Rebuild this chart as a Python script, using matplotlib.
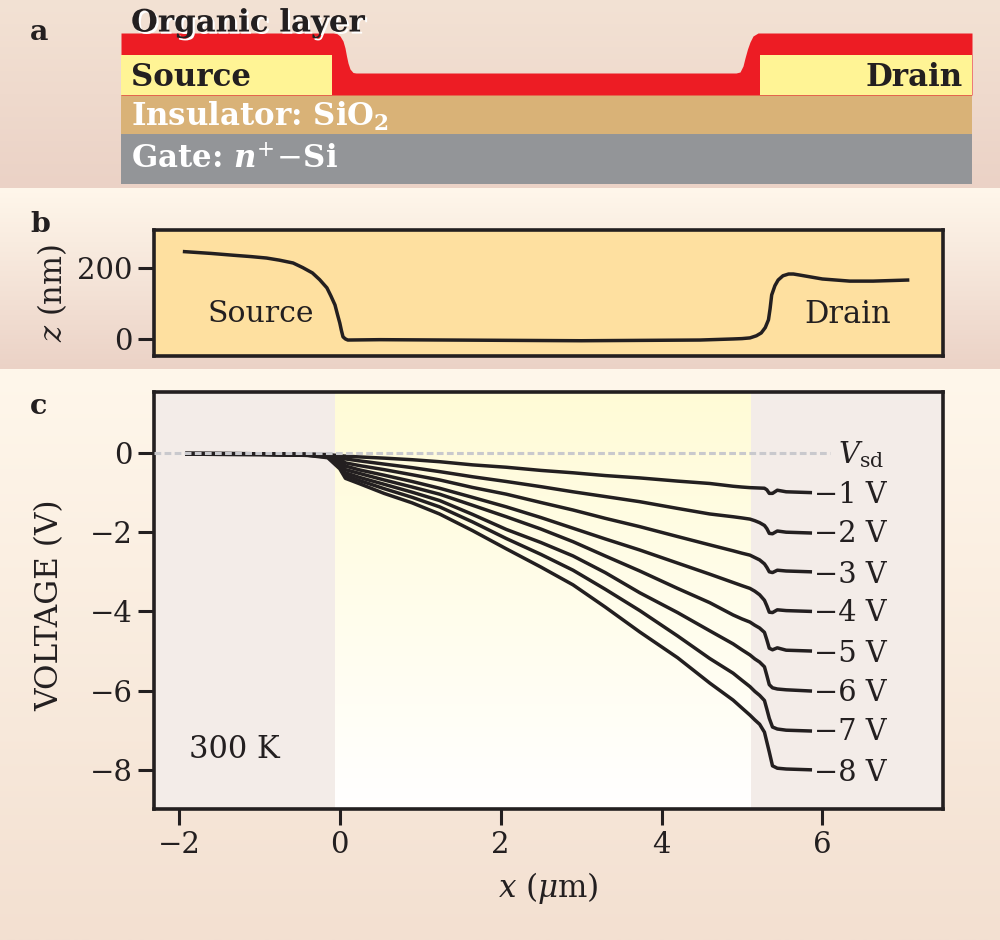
#!/usr/bin/env python3
"""
Organic transistor cross section, height profile and voltage profiles
"""

import matplotlib
matplotlib.use('Agg')
import matplotlib.pyplot as plt
import matplotlib.patheffects as pe
from matplotlib.colors import to_rgb
import numpy as np

plt.rcParams['font.family'] = ['DejaVu Serif']
plt.rcParams['mathtext.fontset'] = 'dejavuserif'

# Height profile, panel b
profile_x = [-1.93, -1.6, -1.33, -1.1, -0.91, -0.75, -0.58, -0.46, -0.34, -0.25, -0.16, -0.11, -0.06,
             -0.03, 0.0, 0.02, 0.04, 0.07, 0.1, 0.5, 3.0, 4.48, 4.89, 5.0, 5.1, 5.18, 5.24, 5.29,
             5.33, 5.35, 5.37, 5.41, 5.45, 5.51, 5.58, 5.64, 5.72, 6.0, 6.34, 6.63, 7.06]
profile_z = [246, 241, 236, 232, 228, 222, 214, 201, 186, 167, 144, 121, 96,
             70, 45, 24, 6, 0, -3, -2, -5, -3, 0, 1, 3, 9, 17, 32,
             54, 85, 124, 150, 166, 178, 183, 183, 180, 169, 163, 163, 166]

# Voltage profiles, panel c
position = [-1.9, -1.0, -0.4, -0.15, 0.0, 0.07, 0.25, 0.55, 0.9, 1.24, 1.65, 2.07, 2.5, 2.9, 3.3, 3.73,
            4.2, 4.6, 4.89, 5.0, 5.1, 5.16, 5.22, 5.28, 5.31, 5.34, 5.38, 5.44, 5.55, 5.85]
v_1 = [-0.01, -0.02, -0.03, -0.04, -0.07, -0.08, -0.10, -0.13, -0.17, -0.22, -0.30, -0.36, -0.44, -0.50, -0.57, -0.63,
       -0.71, -0.77, -0.84, -0.86, -0.875, -0.88, -0.885, -0.89, -0.93, -1.02, -1.02, -0.94, -0.98, -1.0]
v_2 = [-0.01, -0.02, -0.03, -0.05, -0.10, -0.15, -0.20, -0.28, -0.37, -0.47, -0.60, -0.72, -0.85, -0.98, -1.10, -1.23,
       -1.40, -1.54, -1.61, -1.64, -1.67, -1.71, -1.76, -1.83, -1.91, -2.03, -2.04, -1.97, -2.0, -2.02]
v_3 = [-0.01, -0.02, -0.04, -0.06, -0.15, -0.25, -0.32, -0.42, -0.55, -0.68, -0.87, -1.04, -1.25, -1.44, -1.65, -1.86,
       -2.11, -2.32, -2.47, -2.53, -2.58, -2.64, -2.7, -2.8, -2.89, -3.0, -3.02, -2.96, -2.98, -3.0]
v_4 = [-0.02, -0.03, -0.04, -0.07, -0.20, -0.33, -0.43, -0.56, -0.72, -0.89, -1.12, -1.36, -1.63, -1.90, -2.17, -2.45,
       -2.78, -3.06, -3.27, -3.35, -3.42, -3.49, -3.58, -3.72, -3.86, -4.02, -4.03, -3.96, -3.98, -4.0]
v_5 = [-0.02, -0.03, -0.05, -0.08, -0.25, -0.42, -0.52, -0.68, -0.86, -1.04, -1.32, -1.61, -1.92, -2.24, -2.60, -2.98,
       -3.42, -3.78, -4.09, -4.19, -4.27, -4.35, -4.42, -4.53, -4.72, -4.93, -4.97, -4.92, -4.98, -5.0]
v_6 = [-0.02, -0.03, -0.05, -0.09, -0.30, -0.50, -0.62, -0.79, -0.99, -1.20, -1.55, -1.93, -2.26, -2.60, -3.02, -3.53,
       -4.03, -4.49, -4.82, -4.97, -5.1, -5.2, -5.28, -5.4, -5.62, -5.85, -5.93, -5.96, -5.98, -6.01]
v_7 = [-0.03, -0.04, -0.06, -0.10, -0.35, -0.57, -0.70, -0.90, -1.12, -1.36, -1.74, -2.16, -2.56, -2.96, -3.44, -3.98,
       -4.62, -5.19, -5.56, -5.74, -5.9, -6.02, -6.12, -6.25, -6.47, -6.7, -6.92, -6.97, -7.0, -7.02]
v_8 = [-0.03, -0.04, -0.06, -0.12, -0.40, -0.64, -0.78, -1.02, -1.26, -1.54, -1.96, -2.42, -2.88, -3.33, -3.89, -4.52,
       -5.17, -5.81, -6.24, -6.44, -6.62, -6.74, -6.85, -7.05, -7.3, -7.55, -7.9, -7.96, -7.98, -8.0]
voltages = [v_1, v_2, v_3, v_4, v_5, v_6, v_7, v_8]
voltage_labels = ['\u22121 V', '\u22122 V', '\u22123 V', '\u22124 V',
                  '\u22125 V', '\u22126 V', '\u22127 V', '\u22128 V']
label_v = [-1.05, -2.05, -3.07, -4.05, -5.07, -6.07, -7.05, -8.07]

# Device layers, panel a (outline read in image pixels)
organic_px = [121, 333, 337, 340, 343, 345, 346.5, 348, 350, 353, 356,
              736, 740, 743, 745, 747.5, 750, 753, 758, 972]
organic_py = [33, 33, 33.7, 36, 41, 48, 56, 63, 69, 72.5, 73,
              73, 72, 66, 58, 49, 42, 36, 33, 33]

INK = '#231f20'

fig = plt.figure(figsize=(10, 9.4), dpi=100)

# Page layer in image pixels
page = fig.add_axes([0, 0, 1, 1], zorder=0)
page.axis('off')


def vertical_fade(ax, extent, c_top, c_bottom):
    t = np.linspace(0, 1, 256)[:, None, None]
    rgb = (1 - t) * np.array(to_rgb(c_top)) + t * np.array(to_rgb(c_bottom))
    ax.imshow(rgb, extent=extent, aspect='auto', origin='upper', zorder=0)


vertical_fade(page, [0, 1000, 188, 0], '#f3e2d4', '#ebd2c6')
vertical_fade(page, [0, 1000, 369, 188], '#fff7eb', '#ebd2c6')
vertical_fade(page, [0, 1000, 940, 369], '#fff7eb', '#f3e0d1')
page.set_xlim(0, 1000)
page.set_ylim(940, 0)

# Panel a
page.fill_between([121, 972], 134, 184, color='#939598', lw=0)
page.fill_between([121, 972], 95, 134, color='#d9b277', lw=0)
page.fill_between(organic_px, organic_py, 95, color='#ed1c24', lw=0)
page.fill_between([121, 332], 55, 95, color='#fff495', lw=0)
page.fill_between([760, 972], 55, 95, color='#fff495', lw=0)

BOLD = 22.2
page.text(131, 23, 'Organic layer', fontsize=BOLD, fontweight='bold', color=INK,
          ha='left', va='center',
          path_effects=[pe.withSimplePatchShadow(offset=(1.5, -1.5), shadow_rgbFace='white', alpha=1)])
page.text(131, 77, 'Source', fontsize=BOLD, fontweight='bold', color=INK, ha='left', va='center')
page.text(963, 77, 'Drain', fontsize=BOLD, fontweight='bold', color=INK, ha='right', va='center')
page.text(131, 116, r'Insulator: SiO$_{\mathbf{2}}$', fontsize=BOLD, fontweight='bold',
          color='white', ha='left', va='center')
page.text(131, 160, r'Gate: $\mathbfit{n}^{+}\!-\!$Si', fontsize=BOLD, fontweight='bold',
          color='white', ha='left', va='center')

for letter, lx, ly in [('a', 30, 32), ('b', 30, 225), ('c', 30, 407)]:
    page.text(lx, ly, letter, fontsize=20.5, fontweight='bold', color=INK, ha='left', va='center')


def place(left, top, right, bottom):
    return fig.add_axes([left / 1000, 1 - bottom / 940, (right - left) / 1000, (bottom - top) / 940],
                        zorder=1)


# Panel b
ax_b = place(154, 230, 943, 356)
ax_b.set_facecolor('#fee0a0')
ax_b.plot(profile_x, profile_z, color=INK, lw=2.5, solid_joinstyle='round')
ax_b.set_xlim(-2.31, 7.5)
ax_b.set_ylim(-48, 307)
ax_b.set_xticks([])
ax_b.set_yticks([0, 200])
ax_b.set_ylabel(r'$z$ (nm)', fontsize=22, color=INK, va='center')
ax_b.yaxis.set_label_coords((52 - 154) / 789, 0.5)
ax_b.text(-1.64, 70, 'Source', fontsize=21.5, color=INK, ha='left', va='center')
ax_b.text(5.77, 70, 'Drain', fontsize=22, color=INK, ha='left', va='center')

# Panel c
ax_c = place(154, 392, 943, 809)
ax_c.set_facecolor('#f3ece8')
vertical_fade(ax_c, [-0.06, 5.1, -8.99, 1.54], '#fffbd6', '#ffffff')
ax_c.set_xlim(-2.31, 7.5)
ax_c.set_ylim(-8.99, 1.54)

for series, label, ly in zip(voltages, voltage_labels, label_v):
    ax_c.plot(position, series, color=INK, lw=2.5, solid_joinstyle='round', zorder=2)
    ax_c.text(5.9, ly, label, fontsize=20.8, color=INK, ha='left', va='center')

ax_c.plot([-2.31, 6.09], [0, 0], color='#c9c9cd', lw=2.2, dashes=(2.2, 1.1), zorder=3)
ax_c.text(6.2, -0.05, r'$V_{\mathrm{sd}}$', fontsize=21, color=INK, ha='left', va='center')
ax_c.text(-1.87, -7.5, '300 K', fontsize=22, color=INK, ha='left', va='center')
ax_c.set_xticks([-2, 0, 2, 4, 6])
ax_c.set_yticks([0, -2, -4, -6, -8])
ax_c.set_xlabel(r'$x$ ($\mu$m)', fontsize=22.3, color=INK, va='center')
ax_c.xaxis.set_label_coords(0.5, -(888 - 809) / 417)
ax_c.set_ylabel('VOLTAGE (V)', fontsize=22.4, color=INK, va='center')
ax_c.yaxis.set_label_coords((50 - 154) / 789, (809 - 605) / 417)

for ax in (ax_b, ax_c):
    for spine in ax.spines.values():
        spine.set_linewidth(2.6)
        spine.set_color(INK)
    ax.tick_params(axis='both', length=11.5, width=2.2, color=INK, labelcolor=INK,
                   labelsize=21, pad=4)

plt.savefig('out.png', dpi=100)
